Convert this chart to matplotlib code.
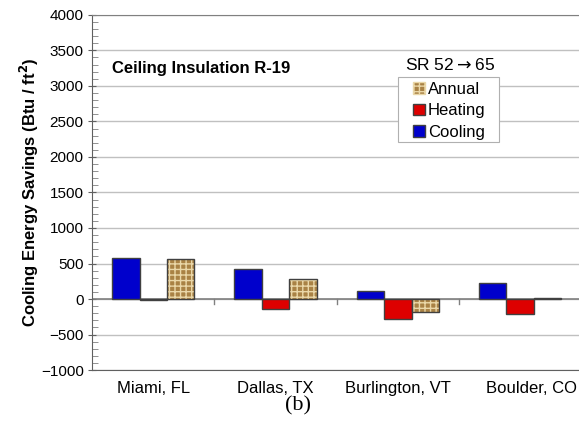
import matplotlib
matplotlib.use("Agg")
import matplotlib.pyplot as plt
import matplotlib.transforms as mtransforms
import numpy as np
from matplotlib.patches import Patch, Rectangle
from matplotlib.legend_handler import HandlerPatch
from matplotlib.ticker import MultipleLocator

# data
cities = ['Miami, FL', 'Dallas, TX', 'Burlington, VT', 'Boulder, CO']
cooling = [583, 418, 113, 231]
heating = [-8, -135, -276, -215]
annual = [569, 287, -178, 8]

plt.rcParams['font.family'] = ['Liberation Sans', 'DejaVu Sans']
plt.rcParams['hatch.linewidth'] = 1.0

fig = plt.figure(figsize=(5.79, 4.23), dpi=100)
ax = fig.add_axes([0.159, 0.125, 0.845, 0.840])

x = np.arange(len(cities))
w = 0.224
edge = '#404040'
tan = '#a98245'
weave = '#ead7a8'

ax.bar(x - w, cooling, w, color='#0000cc', edgecolor=edge, linewidth=1.0, zorder=3)
ax.bar(x, heating, w, color='#dd0000', edgecolor=edge, linewidth=1.0, zorder=3)
# annual bars: textured fill then a dark outline on top
ax.bar(x + w, annual, w, color=tan, edgecolor=weave, hatch='+++',
       linewidth=0, zorder=3)
ax.bar(x + w, annual, w, fill=False, edgecolor=edge, linewidth=1.0, zorder=4)

ax.set_xlim(-0.5, len(cities) - 0.5)
ax.set_ylim(-1000, 4000)
ax.yaxis.set_major_locator(MultipleLocator(500))
ax.yaxis.set_minor_locator(MultipleLocator(100))
ax.grid(axis='y', color='#c0c0c0', linewidth=1.0, zorder=0)
ax.axhline(0, color='#808080', linewidth=1.2, zorder=2)

# category separators on the zero line
for b in [0.5, 1.5, 2.5]:
    ax.plot([b, b], [0, -70], color='#808080', linewidth=1.0, zorder=2, clip_on=False)

ax.set_xticks(x)
ax.set_xticklabels(cities, fontsize=12)
ax.tick_params(axis='x', length=0, pad=8)
# last label sits a bit right in the reference
lab = ax.get_xticklabels()[-1]
lab.set_transform(lab.get_transform() + mtransforms.ScaledTranslation(0.11, 0, fig.dpi_scale_trans))
ax.tick_params(axis='y', which='major', direction='inout', length=6, color='#606060',
               labelsize=11, pad=3)
ax.tick_params(axis='y', which='minor', direction='in', length=4, color='#808080')

ax.spines['right'].set_visible(False)
ax.spines['left'].set_color('#606060')
ax.spines['top'].set_color('#808080')
ax.spines['bottom'].set_color('#606060')

ax.set_ylabel('Cooling Energy Savings (Btu / ft$^{\\mathbf{2}}$)', fontsize=12,
              fontweight='bold', labelpad=0)

ax.text(0.04, 0.835, 'Ceiling Insulation R-19', transform=ax.transAxes,
        fontsize=12, fontweight='bold')
ax.text(0.64, 0.845, 'SR 52$\\rightarrow$65', transform=ax.transAxes, fontsize=12.5)


# small square legend keys sitting at the right of the handle box
def square_key(legend, orig_handle, xdescent, ydescent, width, height, fontsize):
    return Rectangle((-xdescent + width - height, -ydescent), height, height)


handles = [Patch(facecolor=tan, edgecolor=weave, hatch='+++'),
           Patch(facecolor='#dd0000', edgecolor=edge),
           Patch(facecolor='#0000cc', edgecolor=edge)]
ax.add_patch(Rectangle((0.626, 0.642), 0.206, 0.183, transform=ax.transAxes,
                       facecolor='white', edgecolor='#b0b0b0', linewidth=0.8, zorder=5))
leg = ax.legend(handles, ['Annual', 'Heating', 'Cooling'], loc='upper left',
                bbox_to_anchor=(0.656, 0.812), fontsize=12, frameon=False,
                handler_map={Patch: HandlerPatch(patch_func=square_key)},
                handlelength=0.72, handleheight=0.72, handletextpad=0.18,
                labelspacing=0.4, borderpad=0, borderaxespad=0)
leg.set_zorder(6)

fig.text(0.515, 0.03, '(b)', fontsize=16, family='Liberation Serif', ha='center')

fig.savefig('out.png', dpi=100)
